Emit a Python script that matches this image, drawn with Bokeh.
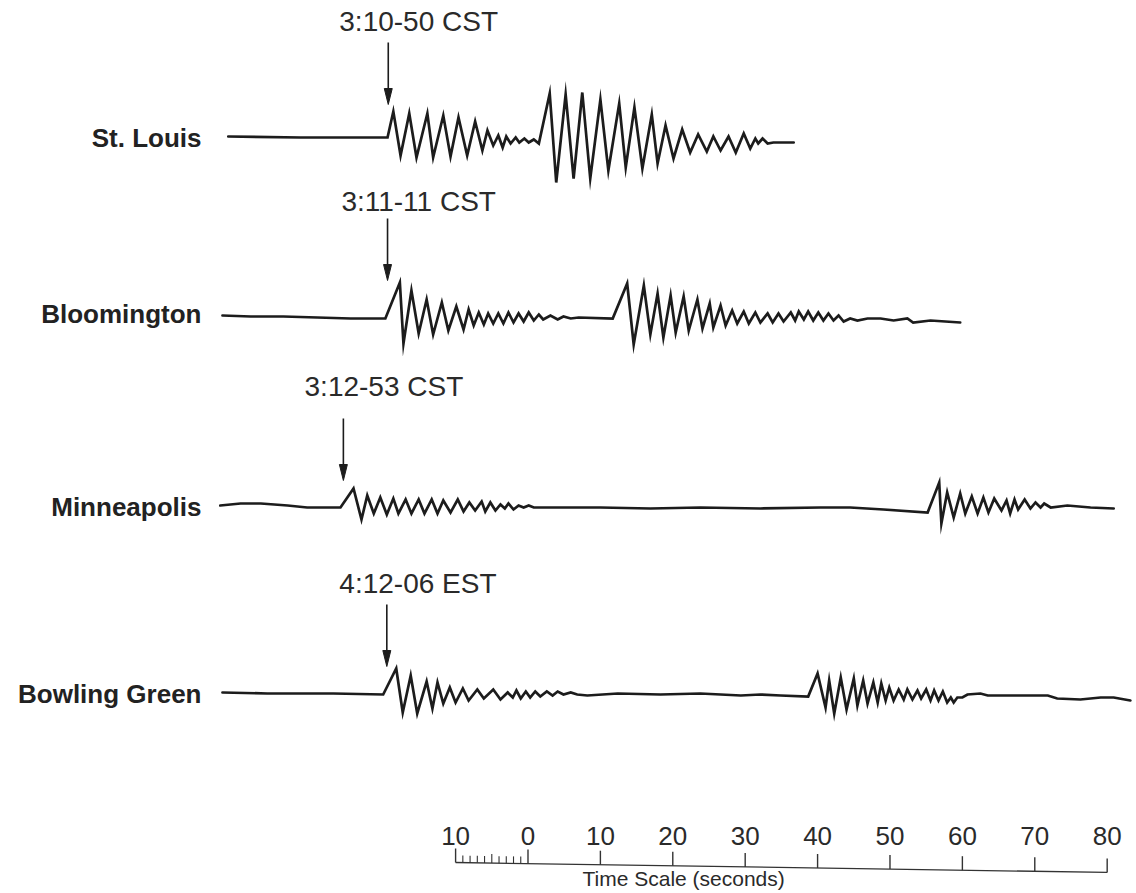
from bokeh.plotting import figure
from bokeh.models import Range1d
from bokeh.core.properties import value
from bokeh.embed import file_html
from bokeh.resources import INLINE

# ---------------- data ----------------
stations = ["St. Louis", "Bloomington", "Minneapolis", "Bowling Green"]
arrival_labels = ["3:10-50 CST", "3:11-11 CST", "3:12-53 CST", "4:12-06 EST"]
arrival_times = [-19.3, -19.4, -25.5, -19.5]   # seconds on the time scale

# St. Louis trace: time (s) and amplitude (arbitrary units)
stl_t = [-41.4, -31.4, -19.4, -18.6, -17.6, -16.4, -15.4, -13.9, -13.1, -11.7, -10.7,
         -9.6, -8.4, -7.3, -6.3, -5.6, -4.8, -4.1, -3.5, -3.0, -2.4, -1.7, -1.2, -0.5,
         0.1, 0.8, 1.5, 3.0, 3.9, 5.2, 6.3, 7.5, 8.6, 10.0, 11.1, 12.6, 13.5, 14.7,
         15.8, 17.1, 17.9, 19.0, 20.1, 21.3, 22.4, 23.5, 24.7, 25.6, 26.6, 27.7, 28.7,
         29.8, 30.7, 31.4, 31.8, 32.4, 33.1, 33.9, 36.7]
stl_amp = [1, 0, 0, 26, -18, 24, -20, 24, -20, 22, -19,
           20, -18, 16, -13, 7, -8, 2, -10, 1, -6, 0, -5, -1,
           -5, -2, -6, 44, -45, 43, -41, 45, -41, 38, -33, 34, -30, 30,
           -31, 23, -26, 12, -21, 8, -15, 3, -14, 1, -13, 1, -15,
           4, -11, -1, -6, -1, -6, -5, -5]

# Bloomington trace
blm_t = [-42.2, -38.3, -33.8, -29.1, -24.5, -19.7, -17.7, -17.2, -16.1, -15.1, -14.0,
         -13.1, -11.9, -11.0, -9.9, -8.9, -8.2, -7.5, -6.8, -6.1, -5.5, -4.8, -4.1,
         -3.4, -2.7, -2.0, -1.3, -0.6, 0.1, 0.8, 1.5, 2.1, 3.1, 4.1, 4.9, 5.9, 7.0,
         11.7, 13.7, 14.6, 16.0, 16.9, 17.9, 18.7, 19.7, 20.4, 21.5, 22.2, 23.4, 24.1,
         25.1, 25.6, 26.6, 27.3, 28.2, 28.9, 29.8, 30.5, 31.4, 32.1, 33.1, 33.8, 34.6,
         35.3, 36.3, 36.9, 37.4, 38.1, 38.7, 39.4, 40.1, 40.8, 41.5, 42.2, 42.9, 43.6,
         44.5, 45.5, 46.9, 48.7, 50.5, 52.4, 53.2, 55.6, 59.7]
blm_amp = [2, 1, 1, 0, -1, -1, 35, -26, 27, -16, 18,
           -17, 15, -13, 11, -12, 8, -8, 5, -7, 4, -6, 4,
           -6, 5, -5, 4, -4, 5, -3, 3, -2, 2, -2, 1, -1, 0,
           -1, 34, -27, 32, -17, 24, -20, 22, -15, 21, -13, 18, -11,
           14, -10, 12, -8, 7, -6, 6, -6, 5, -5, 4, -5, 4,
           -4, 5, -3, 6, -2, 6, -3, 5, -3, 4, -3, 2, -4,
           -1, -3, -1, -1, -3, -1, -5, -3, -5]

# Minneapolis trace
mpl_t = [-42.5, -39.7, -36.9, -33.2, -30.5, -25.9, -24.1, -23.0, -22.2, -21.3, -20.4,
         -19.5, -18.6, -17.9, -16.9, -16.1, -15.1, -14.3, -13.3, -12.5, -11.7, -10.7,
         -9.7, -8.9, -8.1, -7.3, -6.4, -5.9, -5.2, -4.5, -3.8, -3.2, -2.7, -2.0, -1.3,
         -0.6, 0.1, 0.8, 3.1, 10.0, 16.9, 23.8, 32.1, 40.4, 44.5, 49.1, 55.2, 56.8,
         57.1, 57.9, 58.8, 59.7, 60.4, 61.3, 62.1, 62.9, 63.6, 64.4, 65.4, 66.1, 66.6,
         67.2, 67.7, 68.6, 69.4, 70.1, 70.8, 71.3, 72.2, 74.5, 77.7, 80.9]
mpl_amp = [2, 4, 4, 2, 0, 0, 19, -12, 12, -6, 10,
           -7, 9, -6, 8, -6, 8, -6, 8, -6, 7, -5,
           8, -4, 5, -3, 6, -4, 5, -3, 3, -1, 4, -2, 2,
           0, 2, 0, 0, 0, -1, 0, -1, 0, 0, -2, -5, 25,
           -16, 15, -10, 14, -6, 11, -6, 10, -5, 9, -3, 7, -6,
           8, -2, 8, -1, 5, 0, 4, 0, 2, 0, -1]

# Bowling Green trace
bgr_t = [-42.2, -36.0, -31.4, -26.9, -20.0, -18.2, -17.3, -16.2, -15.3, -14.0, -13.2,
         -12.5, -11.7, -10.8, -10.0, -9.0, -8.2, -7.0, -6.1, -4.8, -3.8, -2.8, -2.1,
         -1.6, -1.0, -0.3, 0.3, 1.0, 1.7, 2.6, 3.4, 4.1, 4.9, 5.9, 6.8, 8.2, 12.4,
         18.3, 23.8, 29.4, 32.1, 34.9, 38.7, 40.0, 41.1, 41.6, 42.3, 43.2, 44.0, 45.0,
         45.5, 46.3, 46.9, 47.7, 48.3, 48.8, 49.4, 49.9, 50.5, 51.2, 51.9, 52.4, 53.1,
         53.8, 54.3, 55.0, 55.6, 56.1, 56.7, 57.3, 57.9, 58.4, 58.8, 59.3, 60.0, 60.7,
         62.5, 63.5, 67.1, 71.8, 73.1, 76.3, 79.1, 80.9, 83.2]
bgr_amp = [1, 0, 0, 0, -1, 25, -19, 18, -20, 12, -15,
           11, -10, 6, -9, 5, -7, 4, -5, 4, -6, 1, -4,
           3, -5, 2, -4, 2, -3, 2, -2, 2, -1, 1, -1, -2, 0,
           -1, 0, -2, -1, -2, -3, 20, -14, 13, -20, 16, -16, 15,
           -12, 13, -10, 11, -9, 10, -7, 6, -7, 4, -6, 4, -6,
           3, -5, 4, -7, 3, -7, 2, -9, -4, -9, -4, -4, -1,
           0, -2, -2, -2, -5, -6, -4, -4, -7]

traces_t = [stl_t, blm_t, mpl_t, bgr_t]
traces_amp = [stl_amp, blm_amp, mpl_amp, bgr_amp]

# time scale bar
scale_ticks = [-10, 0, 10, 20, 30, 40, 50, 60, 70, 80]
scale_tick_labels = ["10", "0", "10", "20", "30", "40", "50", "60", "70", "80"]
scale_minor_ticks = [-9, -8, -7, -6, -5, -4, -3, -2, -1]
scale_title = "Time Scale (seconds)"

# ---------------- layout / style ----------------
W, H = 1136, 893
offsets = [748, 568, 378, 192]          # vertical placement of each trace
tip_gap = [33, 37, 27, 27]              # arrow tip height above trace baseline
label_gap = [21, 17, 32, 21]            # arrival label centre above arrow top
label_dx = [4.2, 4.3, 5.6, 4.3]         # arrival label centre right of arrow (s)
name_shift = [0, 4, 1, 0]               # station name centre relative to trace
ARROW_LEN = 62
HEAD_LEN = 16
HEAD_HALF = 0.55                        # half-width of arrowhead in seconds
INK = "#1c1c1c"
FONT = value("Liberation Sans")

p = figure(width=W, height=H, x_range=Range1d(-72.86, 84.05), y_range=Range1d(-8, 885),
           output_backend="svg", toolbar_location=None, min_border=0)
p.axis.visible = False
p.grid.visible = False
p.outline_line_color = None
p.background_fill_color = "white"
p.border_fill_color = "white"

# seismogram traces
for t, amp, off in zip(traces_t, traces_amp, offsets):
    p.line(t, [off + a for a in amp], line_color=INK, line_width=2.7,
           line_join="miter", line_cap="round")

# arrows with arrival labels
tips = [off + g for off, g in zip(offsets, tip_gap)]
tops = [tp + ARROW_LEN for tp in tips]
p.segment(x0=arrival_times, y0=tops, x1=arrival_times, y1=[tp + HEAD_LEN - 2 for tp in tips],
          line_color=INK, line_width=1.6)
p.patches(xs=[[t - HEAD_HALF, t + HEAD_HALF, t] for t in arrival_times],
          ys=[[tp + HEAD_LEN, tp + HEAD_LEN, tp] for tp in tips],
          fill_color=INK, line_color=INK, line_width=1)
p.text(x=[t + d for t, d in zip(arrival_times, label_dx)],
       y=[tp + g for tp, g in zip(tops, label_gap)],
       text=arrival_labels, text_align="center", text_baseline="middle", text_font=FONT,
       text_font_size="28px", text_color="#2a2a2a")

# station names
p.text(x=[-45.1] * 4, y=[off + s for off, s in zip(offsets, name_shift)], text=stations,
       text_align="right", text_baseline="middle", text_font=FONT,
       text_font_style="bold", text_font_size="26px", text_color="#222222")

# time scale bar (slightly sloping baseline as in the scanned original)
def base_y(t):
    return 23 - (t + 10) * 0.11

p.line([scale_ticks[0], scale_ticks[-1]], [base_y(scale_ticks[0]), base_y(scale_ticks[-1])],
       line_color="#333333", line_width=1.3)
p.segment(x0=scale_ticks, y0=[base_y(t) for t in scale_ticks],
          x1=scale_ticks, y1=[base_y(t) + 14 for t in scale_ticks],
          line_color="#333333", line_width=1.4)
p.segment(x0=scale_minor_ticks, y0=[base_y(t) for t in scale_minor_ticks],
          x1=scale_minor_ticks, y1=[base_y(t) + (9 if t == -5 else 7) for t in scale_minor_ticks],
          line_color="#333333", line_width=1.1)
p.text(x=scale_ticks, y=[50] * len(scale_ticks), text=scale_tick_labels,
       text_align="center", text_baseline="middle", text_font=FONT,
       text_font_size="26px", text_color="#2a2a2a")
p.text(x=[21.5], y=[7], text=[scale_title], text_align="center",
       text_baseline="middle", text_font=FONT, text_font_size="21px",
       text_color="#2a2a2a")

open("out.html", "w").write(file_html(p, INLINE))
